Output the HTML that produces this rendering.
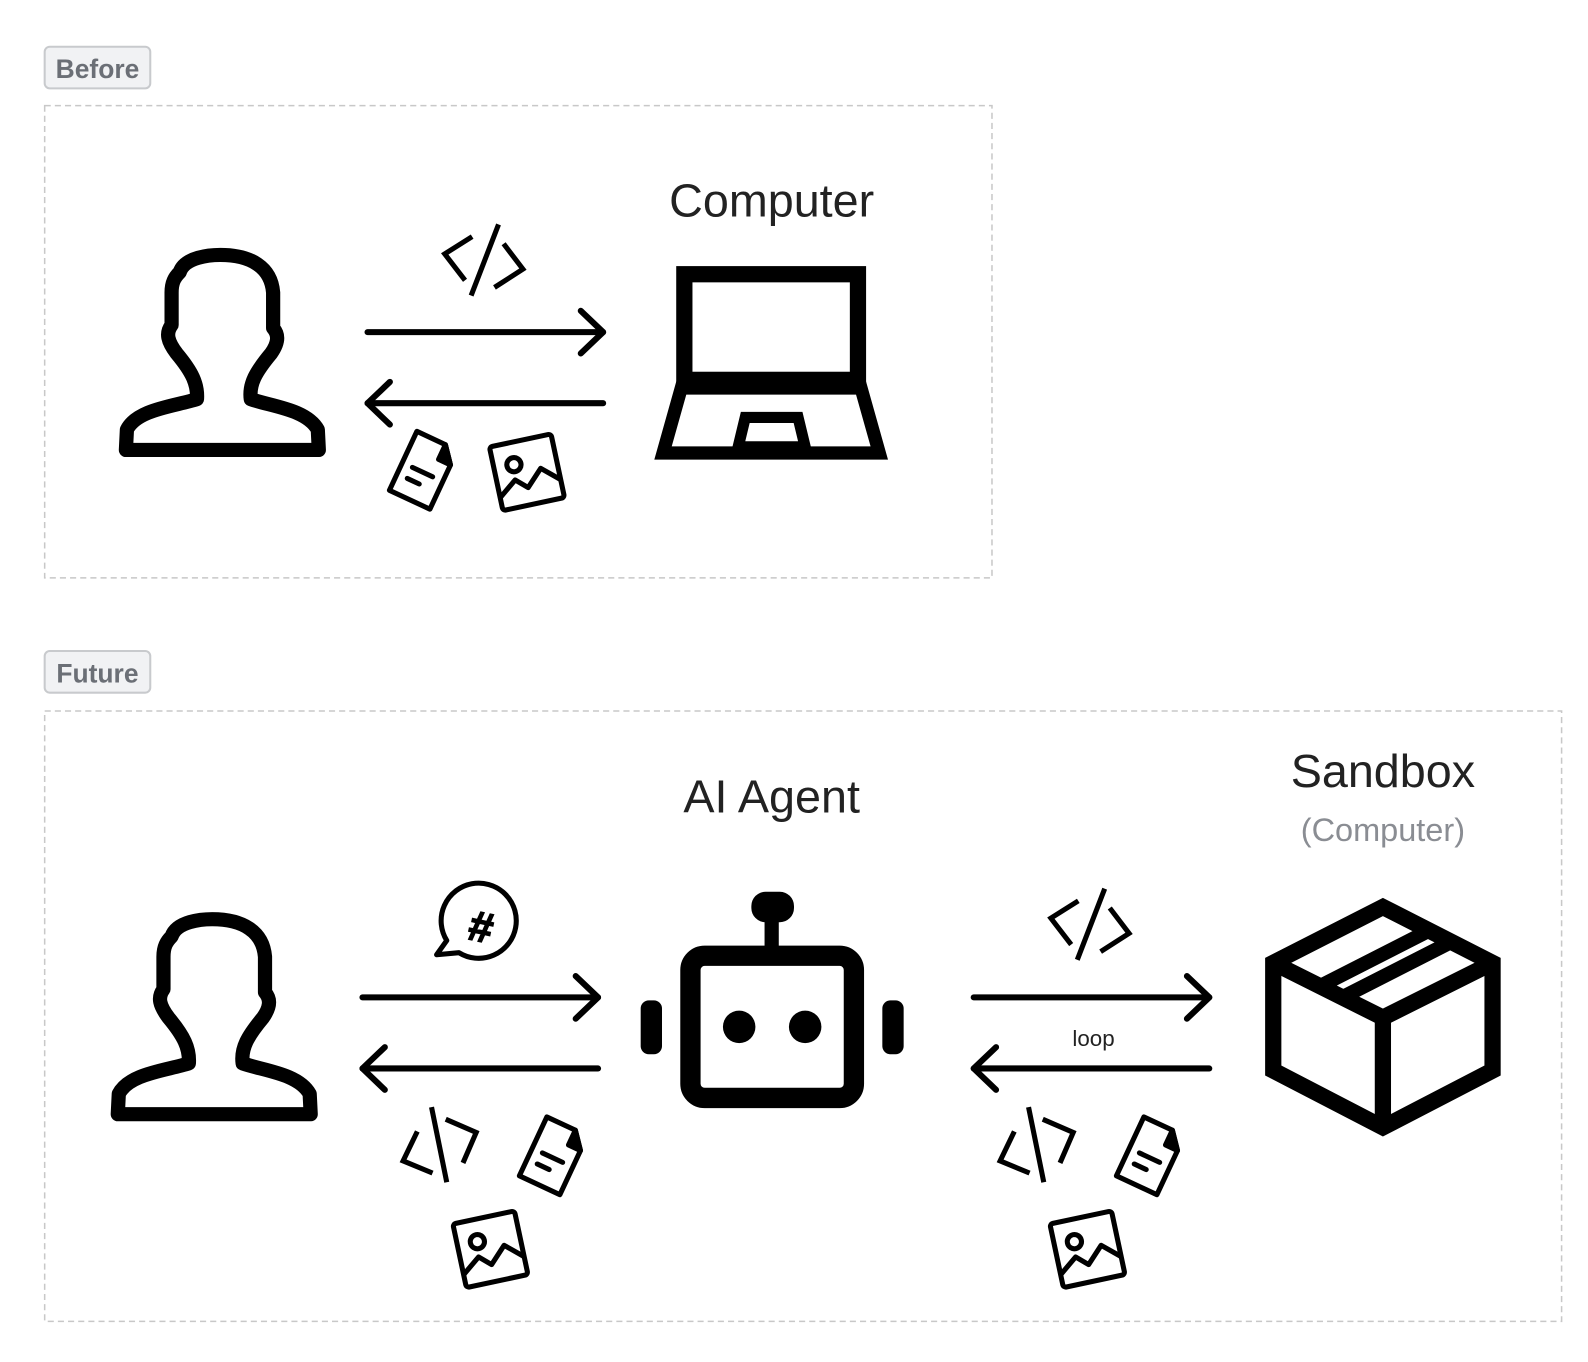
<!DOCTYPE html>
<html><head><meta charset="utf-8"><style>
html,body{margin:0;padding:0;background:#fff;}
svg{display:block;}
text{font-family:"Liberation Sans",sans-serif;}
</style></head><body>
<svg width="1588" height="1362" viewBox="0 0 1564 1341" preserveAspectRatio="none" xmlns="http://www.w3.org/2000/svg">
<defs>
<g id="person" fill="none" stroke="#000" stroke-width="14" stroke-linejoin="round" stroke-linecap="round">
<path d="M60,20 C65,5 90,3 100,3 C130,3 150,15 152,40 L152,75 C158,82 157,90 150,100 C135,118 128,130 130,145 C150,152 185,155 196,175 L197,195 L7,195 L8,175 C18,155 55,152 77,145 C78,130 72,118 57,100 C48,88 46,80 52,72 L52,40 C52,30 55,25 60,20 Z"/>
</g>
<g id="code" fill="none" stroke="#000" stroke-width="5">
<polyline points="-11,-23 -38,-6 -18,20"/>
<line x1="15" y1="-35" x2="-12" y2="35"/>
<polyline points="20,-16 39,9 11,27"/>
</g>
<g id="code2" fill="none" stroke="#000" stroke-width="5">
<polyline points="-7,28 -36,16 -22,-13"/>
<line x1="-8" y1="-37" x2="7" y2="37"/>
<polyline points="6,-25 36,-12 23,18"/>
</g>
<g id="doc" fill="none" stroke="#000" stroke-width="5" stroke-linejoin="round" stroke-linecap="round">
<path d="M-22,-32 L9,-32 L22,-16 L22,32 L-22,32 Z"/>
<path d="M9,-32 L9,-16 L22,-16 Z" fill="#000"/>
<line x1="-11" y1="2" x2="11" y2="2"/>
<line x1="-11" y1="14" x2="2" y2="14"/>
</g>
<g id="img" fill="none" stroke="#000" stroke-width="5" stroke-linejoin="round">
<rect x="-31" y="-32" width="62" height="64" rx="3"/>
<circle cx="-11" cy="-10" r="7"/>
<polyline points="-31,19 -13,5 -2,15 14,-1 31,14"/>
</g>
<g id="arrows" fill="none" stroke="#000" stroke-width="6" stroke-linecap="round" stroke-linejoin="round">
<line x1="0" y1="0" x2="232" y2="0"/>
<polyline points="210,-21 232,0 210,21"/>
<line x1="0" y1="70" x2="232" y2="70"/>
<polyline points="22,49 0,70 22,91"/>
</g>
</defs>

<!-- Before -->
<rect x="44" y="46" width="104" height="41" rx="5" fill="#f1f2f4" stroke="#c8cacd" stroke-width="2"/>
<text x="96" y="77" text-anchor="middle" font-size="26" font-weight="bold" fill="#6b6f76">Before</text>
<rect x="44" y="104" width="933" height="465" fill="none" stroke="#c8c8c8" stroke-width="1.5" stroke-dasharray="6,4"/>
<use href="#person" transform="translate(117,248)"/>
<use href="#code" transform="translate(476,256)"/>
<use href="#arrows" transform="translate(362,327)"/>
<use href="#doc" transform="translate(417,463) rotate(25)"/>
<use href="#img" transform="translate(519,465) rotate(-12)"/>
<text x="760" y="213" text-anchor="middle" font-size="46" fill="#222">Computer</text>
<g fill="none" stroke="#000" stroke-linejoin="miter">
<rect x="674" y="270" width="171" height="104" stroke-width="16"/>
<polygon points="671,382 848,382 866,446 653,446" stroke-width="13"/>
<polygon points="734,411 786,411 793,440 727,440" stroke-width="11"/>
</g>

<!-- Future -->
<rect x="44" y="641" width="104" height="41" rx="5" fill="#f1f2f4" stroke="#c8cacd" stroke-width="2"/>
<text x="96" y="672" text-anchor="middle" font-size="26" font-weight="bold" fill="#6b6f76">Future</text>
<rect x="44" y="700" width="1494" height="601" fill="none" stroke="#c8c8c8" stroke-width="1.5" stroke-dasharray="6,4"/>
<use href="#person" transform="translate(109,902)"/>
<text x="760" y="800" text-anchor="middle" font-size="46" fill="#222">AI Agent</text>
<g fill="none" stroke="#000" stroke-width="5" stroke-linejoin="round">
<path d="M440,926 A37,37 0 1 1 452,938 L430,940 Z" fill="#fff"/>
</g>
<text x="474" y="927" text-anchor="middle" font-size="42" font-weight="bold" fill="#000" stroke="#000" stroke-width="1.5" transform="rotate(12 474 912)">#</text>
<use href="#arrows" transform="translate(357,982)"/>
<use href="#code2" transform="translate(433,1127)"/>
<use href="#doc" transform="translate(545,1138) rotate(25)"/>
<use href="#img" transform="translate(483,1230) rotate(-12)"/>

<!-- robot -->
<rect x="740" y="878" width="42" height="30" rx="14" fill="#000"/>
<rect x="753" y="900" width="14" height="35" fill="#000"/>
<rect x="680" y="941" width="161" height="140" rx="14" fill="none" stroke="#000" stroke-width="20"/>
<circle cx="728" cy="1011" r="16" fill="#000"/>
<circle cx="793" cy="1011" r="16" fill="#000"/>
<rect x="631" y="985" width="21" height="53" rx="8" fill="#000"/>
<rect x="869" y="985" width="21" height="53" rx="8" fill="#000"/>

<text x="1362" y="775" text-anchor="middle" font-size="46" fill="#222">Sandbox</text>
<text x="1362" y="828" text-anchor="middle" font-size="32" fill="#8a8d93">(Computer)</text>
<use href="#code" transform="translate(1073,910)"/>
<use href="#arrows" transform="translate(959,982)"/>
<text x="1077" y="1030" text-anchor="middle" font-size="22" fill="#222">loop</text>
<use href="#code2" transform="translate(1021,1127)"/>
<use href="#doc" transform="translate(1133,1138) rotate(25)"/>
<use href="#img" transform="translate(1071,1230) rotate(-12)"/>

<!-- box -->
<g fill="none" stroke="#000" stroke-width="16" stroke-linejoin="miter">
<polygon points="1362,893 1470,948 1470,1054 1362,1110 1254,1054 1254,948"/>
<polyline points="1254,948 1362,1002 1470,948"/>
<line x1="1362" y1="1002" x2="1362" y2="1110"/>
<line x1="1300" y1="971" x2="1408" y2="916" stroke-width="14"/>
<line x1="1322" y1="982" x2="1430" y2="927" stroke-width="14"/>
</g>
</svg>
</body></html>
